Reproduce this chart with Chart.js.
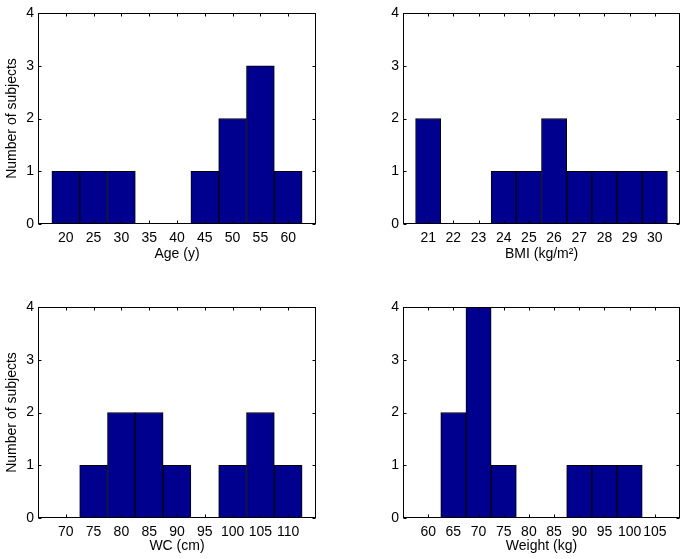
<!DOCTYPE html>
<html>
<head>
<meta charset="utf-8">
<script src="https://cdn.jsdelivr.net/npm/chart.js@4"></script>
<style>
body{margin:0;background:#fff;}
#lienzo{position:relative;width:685px;height:559px;}
canvas{position:absolute;}
</style>
</head>
<body>
<div id="lienzo">
<canvas id="graficaEdad" width="342" height="279" style="left:0;top:0"></canvas>
<canvas id="graficaImc" width="343" height="279" style="left:342px;top:0"></canvas>
<canvas id="graficaCintura" width="342" height="280" style="left:0;top:279px"></canvas>
<canvas id="graficaPeso" width="343" height="280" style="left:342px;top:279px"></canvas>
</div>
<script>

var yTicks = [0,1,2,3,4];

var edadBins = [20,25,30,35,40,45,50,55,60];
var edadCuenta = [1,1,1,0,0,1,2,3,1];
var edadRango = [15,65];

var imcBins = [21,22,23,24,25,26,27,28,29,30];
var imcCuenta = [2,0,0,1,1,2,1,1,1,1];
var imcRango = [20,31];

var cinturaBins = [70,75,80,85,90,95,100,105,110];
var cinturaCuenta = [0,1,2,2,1,0,1,2,1];
var cinturaRango = [65,115];

var pesoBins = [60,65,70,75,80,85,90,95,100,105];
var pesoCuenta = [0,2,4,1,0,0,1,1,1,0];
var pesoRango = [55,110];

var fuente = {family:'"Liberation Sans", Arial, sans-serif', size:14};

// caja estilo matlab con marcas hacia dentro
var marco = {
    id: 'marco',
    afterDraw: function(chart){
        var ctx = chart.ctx;
        var a = chart.chartArea;
        var l = Math.round(a.left)+0.5, r = Math.round(a.right)-0.5;
        var t = Math.round(a.top)+0.5, b = Math.round(a.bottom)-0.5;
        ctx.save();
        ctx.strokeStyle = '#000';
        ctx.lineWidth = 1;
        ctx.beginPath();
        chart.scales.x.ticks.forEach(function(tk){
            var px = Math.round(chart.scales.x.getPixelForValue(tk.value))+0.5;
            ctx.moveTo(px,b); ctx.lineTo(px,b-3);
            ctx.moveTo(px,t); ctx.lineTo(px,t+3);
        });
        chart.scales.y.ticks.forEach(function(tk){
            var py = Math.round(chart.scales.y.getPixelForValue(tk.value))+0.5;
            ctx.moveTo(l,py); ctx.lineTo(l+3,py);
            ctx.moveTo(r,py); ctx.lineTo(r-3,py);
        });
        ctx.stroke();
        ctx.strokeRect(l,t,r-l,b-t);
        ctx.restore();
    }
};

function crearHistograma(id, bins, cuentas, rango, titulo, conTituloY, arriba, anchoY, altoX, padTitulo){
    var puntos = [];
    bins.forEach(function(b,i){
        puntos.push({x:b, y:cuentas[i]});
    });
    var ctx = document.getElementById(id);
    return new Chart(ctx, {
        type: 'bar',
        data: {
            datasets: [{
                data: puntos,
                backgroundColor: '#00008f',
                borderColor: '#000',
                borderWidth: 1,
                borderSkipped: false,
                barPercentage: 1,
                categoryPercentage: 1
            }]
        },
        options: {
            responsive: false,
            animation: false,
            devicePixelRatio: 1,
            layout: {padding: {top: arriba, right: ctx.width - (ctx.width==342 ? 316 : 338), left: 0, bottom: 0}},
            plugins: {legend:{display:false}, tooltip:{enabled:false}},
            scales: {
                x: {
                    type: 'linear',
                    min: rango[0],
                    max: rango[1],
                    offset: false,
                    grid: {display:false, drawTicks:false},
                    border: {display:false},
                    afterBuildTicks: function(s){ s.ticks = bins.map(function(v){return {value:v};}); },
                    afterFit: function(s){ s.height = altoX; },
                    ticks: {autoSkip:false, maxRotation:0, padding:6, color:'#000', font:fuente},
                    title: {display:true, text:titulo, color:'#000', font:fuente, padding:{top:0, bottom:padTitulo}}
                },
                y: {
                    min: 0,
                    max: 4,
                    grid: {display:false, drawTicks:false},
                    border: {display:false},
                    afterBuildTicks: function(s){ s.ticks = yTicks.map(function(v){return {value:v};}); },
                    afterFit: function(s){ s.width = anchoY; },
                    ticks: {padding:4, color:'#000', font:fuente},
                    title: {display:conTituloY, text:'Number of subjects', color:'#000', font:fuente, padding:{top:4, bottom:0}}
                }
            }
        },
        plugins: [marco]
    });
}

crearHistograma('graficaEdad', edadBins, edadCuenta, edadRango, 'Age (y)', true, 13, 38, 55, 16);
crearHistograma('graficaImc', imcBins, imcCuenta, imcRango, 'BMI (kg/m²)', false, 13, 61, 55, 16);
crearHistograma('graficaCintura', cinturaBins, cinturaCuenta, cinturaRango, 'WC (cm)', true, 28, 38, 41, 4);
crearHistograma('graficaPeso', pesoBins, pesoCuenta, pesoRango, 'Weight (kg)', false, 28, 61, 41, 4);

</script>
</body>
</html>
